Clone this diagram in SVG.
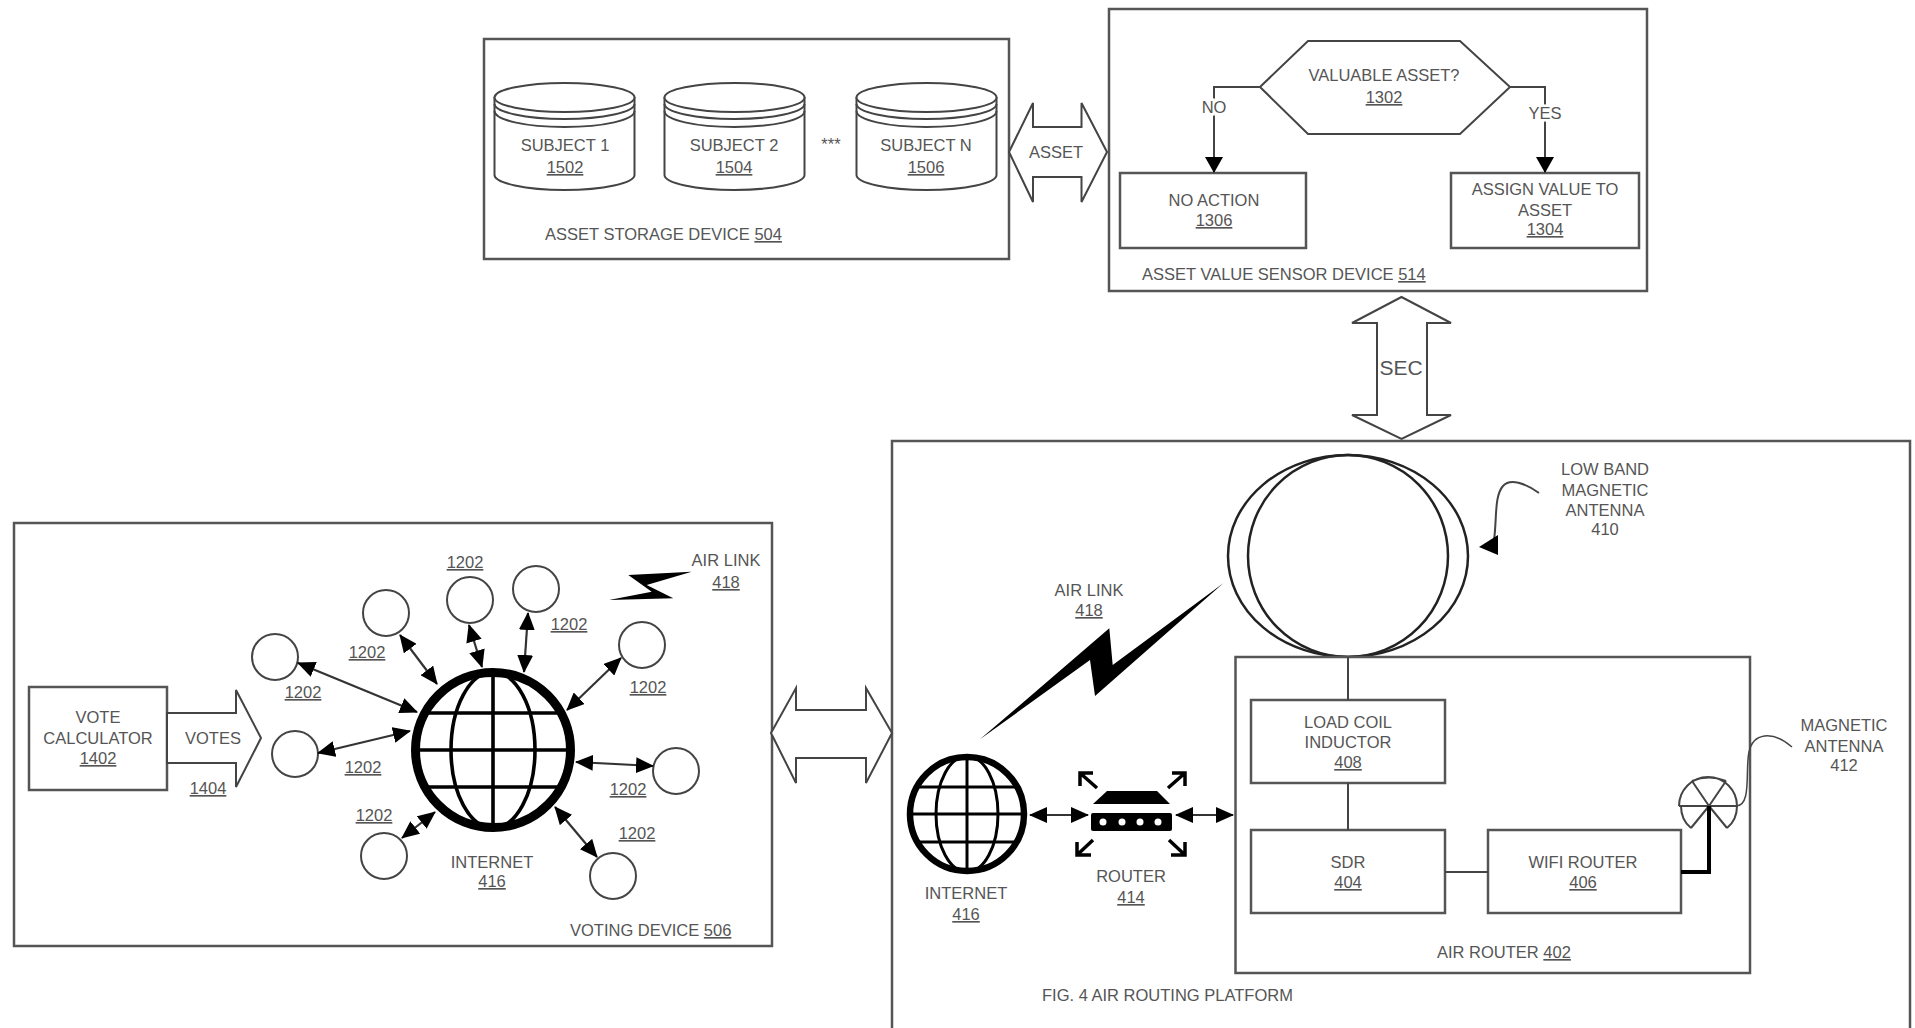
<svg xmlns="http://www.w3.org/2000/svg" width="1915" height="1028" viewBox="0 0 1915 1028">
<style>
text{font-family:"Liberation Sans",Arial,sans-serif;font-size:16.5px;fill:#555;text-anchor:middle}
.s{text-anchor:start}
.u{text-decoration:underline}
.b{fill:#fff;stroke:#555;stroke-width:2.5}
.c{fill:#fff;stroke:#444;stroke-width:2}
.n{fill:none;stroke:#444;stroke-width:2}
.l{fill:none;stroke:#222;stroke-width:2.5}
.a{fill:none;stroke:#333;stroke-width:2.2;marker-start:url(#h);marker-end:url(#h)}
.k{fill:#000;stroke:none}
.g{fill:none;stroke:#000;stroke-width:3.6}
</style>
<defs>
<marker id="h" viewBox="0 0 18 16" refX="17" refY="8" markerWidth="18" markerHeight="16" markerUnits="userSpaceOnUse" orient="auto-start-reverse"><path d="M0 0L18 8L0 16Z" fill="#000"/></marker>
<marker id="d" viewBox="0 0 16 18" refX="15" refY="9" markerWidth="16" markerHeight="18" markerUnits="userSpaceOnUse" orient="auto"><path d="M0 0L16 9L0 18Z" fill="#000"/></marker>
<g id="cyl"><path class="c" d="M-70 14V92C-70 100-39 107 0 107S70 100 70 92V14"/><ellipse class="c" cx="0" cy="14.500" rx="70" ry="14.500"/><path class="n" d="M-70 21C-70 29-39 36 0 36S70 29 70 21M-70 28C-70 37-39 44 0 44S70 37 70 28"/></g>
<clipPath id="cg1"><circle cx="493" cy="750" r="78"/></clipPath>
<clipPath id="cg2"><circle cx="967" cy="814" r="57"/></clipPath>
</defs>

<g id="platform"><rect class="b" x="892" y="441" width="1018" height="590"/><text class="s" x="1042" y="1001">FIG. 4 AIR ROUTING PLATFORM</text></g>

<g id="asset-storage"><rect class="b" x="484" y="39" width="525" height="220"/><text class="s" x="545" y="240">ASSET STORAGE DEVICE <tspan class="u">504</tspan></text></g>
<g id="subject-1"><use href="#cyl" x="564.500" y="83"/><text x="565" y="151">SUBJECT 1</text><text class="u" x="565" y="173">1502</text></g>
<g id="subject-2"><use href="#cyl" x="734.500" y="83"/><text x="734" y="151">SUBJECT 2</text><text class="u" x="734" y="173">1504</text></g>
<text x="831" y="150">***</text>
<g id="subject-n"><use href="#cyl" x="926.500" y="83"/><text x="926" y="151">SUBJECT N</text><text class="u" x="926" y="173">1506</text></g>

<g id="asset-value-sensor"><rect class="b" x="1109" y="9" width="538" height="282"/><text class="s" x="1142" y="280">ASSET VALUE SENSOR DEVICE <tspan class="u">514</tspan></text></g>
<g id="valuable-asset"><path class="c" d="M1260 87L1308 41H1460L1510 87L1460 134H1308Z"/><text x="1384" y="81">VALUABLE ASSET?</text><text class="u" x="1384" y="103">1302</text></g>
<g id="no-action"><rect class="b" x="1120" y="173" width="186" height="75"/><text x="1214" y="206">NO ACTION</text><text class="u" x="1214" y="226">1306</text></g>
<g id="assign-value"><rect class="b" x="1451" y="173" width="188" height="75"/><text x="1545" y="195">ASSIGN VALUE TO</text><text x="1545" y="216">ASSET</text><text class="u" x="1545" y="235">1304</text></g>

<g id="voting-device"><rect class="b" x="14" y="523" width="758" height="423"/><text class="s" x="570" y="936">VOTING DEVICE <tspan class="u">506</tspan></text></g>
<g id="vote-calculator"><rect class="b" x="29" y="687" width="138" height="103"/><text x="98" y="723">VOTE</text><text x="98" y="744">CALCULATOR</text><text class="u" x="98" y="764">1402</text></g>

<g id="internet-voting">
<circle cx="493" cy="750" r="77.500" fill="#fff" stroke="#000" stroke-width="9"/>
<g clip-path="url(#cg1)"><ellipse class="g" cx="493" cy="750" rx="42" ry="78"/><path class="g" d="M493 672V828M410 713H576M410 750H576M410 787H576"/></g>
<text x="492" y="868">INTERNET</text><text class="u" x="492" y="887">416</text>
</g>
<g id="device-1"><circle class="c" cx="275" cy="657" r="23"/><text class="u" x="303" y="698">1202</text></g>
<g id="device-2"><circle class="c" cx="295" cy="754" r="23"/><text class="u" x="363" y="773">1202</text></g>
<g id="device-3"><circle class="c" cx="386" cy="613" r="23"/><text class="u" x="367" y="658">1202</text></g>
<g id="device-4"><circle class="c" cx="384" cy="856" r="23"/><text class="u" x="374" y="821">1202</text></g>
<g id="device-5"><circle class="c" cx="470" cy="600" r="23"/><text class="u" x="465" y="568">1202</text></g>
<g id="device-6"><circle class="c" cx="536" cy="589" r="23"/><text class="u" x="569" y="630">1202</text></g>
<g id="device-7"><circle class="c" cx="642" cy="645" r="23"/><text class="u" x="648" y="693">1202</text></g>
<g id="device-8"><circle class="c" cx="676" cy="771" r="23"/><text class="u" x="628" y="795">1202</text></g>
<g id="device-9"><circle class="c" cx="613" cy="876" r="23"/><text class="u" x="637" y="839">1202</text></g>
<g id="air-link-voting"><path class="k" d="M609 600L651.700 591.700L628.300 575L691.700 571.700L646.700 585L673.300 598.300Z"/><text x="726" y="566">AIR LINK</text><text class="u" x="726" y="588">418</text></g>

<g id="low-band-antenna"><ellipse class="l" cx="1348" cy="556" rx="120" ry="101"/><ellipse class="l" cx="1348" cy="556" rx="100" ry="101"/><text x="1605" y="475">LOW BAND</text><text x="1605" y="496">MAGNETIC</text><text x="1605" y="516">ANTENNA</text><text x="1605" y="535">410</text></g>
<g id="air-router"><rect class="b" x="1235.500" y="657" width="514.500" height="316"/><text class="s" x="1437" y="958">AIR ROUTER <tspan class="u">402</tspan></text></g>
<g id="load-coil"><rect class="b" x="1251" y="700" width="194" height="83"/><text x="1348" y="728">LOAD COIL</text><text x="1348" y="748">INDUCTOR</text><text class="u" x="1348" y="768">408</text></g>
<g id="sdr"><rect class="b" x="1251" y="830" width="194" height="83"/><text x="1348" y="868">SDR</text><text class="u" x="1348" y="888">404</text></g>
<g id="wifi-router"><rect class="b" x="1488" y="830" width="193" height="83"/><text x="1583" y="868">WIFI ROUTER</text><text class="u" x="1583" y="888">406</text></g>
<g id="magnetic-antenna"><path class="n" d="M1679 806A29 29 0 0 1 1737 806H1679M1709 806L1692 781M1709 806L1726 781M1709 806L1691 828M1709 806L1727 828M1681 806Q1681 820 1691 828M1737 806Q1737 820 1727 828M1692 781Q1709 774 1726 781"/><text x="1844" y="731">MAGNETIC</text><text x="1844" y="752">ANTENNA</text><text x="1844" y="771">412</text></g>

<g id="internet-platform">
<circle cx="967" cy="814" r="57" fill="#fff" stroke="#000" stroke-width="6.500"/>
<g clip-path="url(#cg2)"><ellipse class="g" cx="967" cy="814" rx="31" ry="58" style="stroke-width:3"/><path class="g" style="stroke-width:3" d="M967 756V872M908 787H1026M908 814H1026M908 842H1026"/></g>
<text x="966" y="899">INTERNET</text><text class="u" x="966" y="920">416</text>
</g>
<g id="router">
<path class="k" d="M1093 804L1107 791H1157L1170 804Z"/><rect class="k" x="1091" y="813" width="81" height="18" rx="2"/>
<g fill="#fff"><circle cx="1103" cy="822" r="3.500"/><circle cx="1122" cy="822" r="3.500"/><circle cx="1140" cy="822" r="3.500"/><circle cx="1158" cy="822" r="3.500"/></g>
<path fill="none" stroke="#000" stroke-width="3.500" d="M1097 788L1080 773M1080 786V773H1093M1168 788L1185 773M1172 773H1185V786M1093 840L1077 855M1077 842V855H1091M1169 840L1185 855M1171 855H1185V842"/>
<text x="1131" y="882">ROUTER</text><text class="u" x="1131" y="903">414</text>
</g>
<g id="air-link-platform"><path class="k" d="M980 739.300L1109.300 628.300L1112.700 665L1223.300 583.300L1095 696L1090 660Z"/><text x="1089" y="596">AIR LINK</text><text class="u" x="1089" y="616">418</text></g>

<g id="connectors">
<path class="c" d="M1009 152L1033 103V127H1081.500V103L1107 152L1081.500 202V177H1033V202Z"/><text x="1056" y="158">ASSET</text>
<path class="c" d="M1401.500 297L1451 323H1427V415H1451L1401.500 439L1352 415H1377V323H1352Z"/><text x="1401" y="374.500" style="font-size:21px">SEC</text>
<path class="c" d="M771 733L796 688V710H866V688L892 733L866 783V758H796V783Z"/>
<path class="c" d="M167 713H236V690L261 738L236 787V763H167Z"/><text x="213" y="744">VOTES</text><text class="u" x="208" y="794">1404</text>
<path class="n" d="M1260 87H1214V172" style="marker-end:url(#d)"/><path class="n" d="M1510 87H1545V172" style="marker-end:url(#d)"/>
<text x="1214" y="113" style="paint-order:stroke;stroke:#fff;stroke-width:5px">NO</text><text x="1545" y="119" style="paint-order:stroke;stroke:#fff;stroke-width:5px">YES</text>
<path class="a" d="M298 663L417 712"/><path class="a" d="M318 753L410 731"/><path class="a" d="M400 635L437 684"/><path class="a" d="M469 625L482 667"/><path class="a" d="M528 613L524 672"/><path class="a" d="M621 658L567 710"/><path class="a" d="M653 766L576 762"/><path class="a" d="M597 857L555 807"/><path class="a" d="M402 838L435 812"/>
<path class="a" d="M1030 815H1088"/><path class="a" d="M1176 815H1233"/>
<path class="n" d="M1348 657V700M1348 783V830M1445 872H1488"/>
<path fill="none" stroke="#000" stroke-width="4" d="M1681 872H1709V806"/>
<path class="n" d="M1539 493C1525 483 1510 478 1503 486C1494 496 1497 520 1494 540"/><path class="k" d="M1479 547L1498 535V555Z"/>
<path class="n" d="M1736 806C1752 806 1745 770 1749 752C1753 733 1772 730 1792 747" style="stroke-width:1.500"/>
</g>
</svg>
